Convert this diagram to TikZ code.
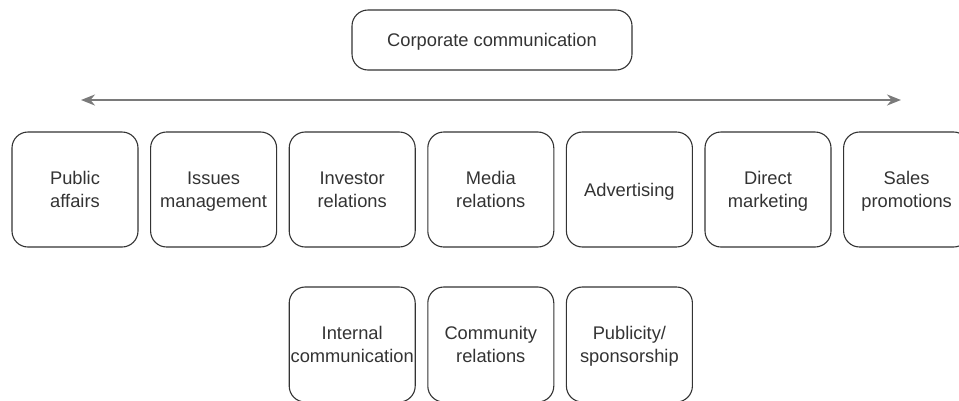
\documentclass[tikz,border=0pt]{standalone}
\usepackage{fontspec}
\setmainfont{Liberation Sans}
\usepackage{xcolor}
\usetikzlibrary{arrows.meta}
\definecolor{boxline}{HTML}{333333}
\definecolor{arrowgray}{HTML}{7A7A7A}
\tikzset{
  unit/.style={draw=boxline, line width=1.1pt, rounded corners=16pt,
    minimum width=126pt, minimum height=115pt, inner xsep=0pt,
    text depth=0pt, align=center, text=boxline,
    font=\fontsize{18.3}{22.5}\selectfont},
  head/.style={unit, minimum width=280pt, minimum height=60pt}
}
\begin{document}
\begin{tikzpicture}[x=1pt,y=-1pt]
\useasboundingbox (0,0) rectangle (959,400);
%top
\node[head] (corp) at (492,40) {Corporate communication};
%double arrow
\coordinate (arrL) at (81,100);
\coordinate (arrR) at (901,100);
\draw[arrowgray, line width=2pt, {Stealth[length=14pt,width=11pt]}-{Stealth[length=14pt,width=11pt]}] (arrL)--(arrR);
%first row
\node[unit] (pa) at (75,189.5) {Public\\affairs};
\node[unit] (im) at (213.6,189.5) {Issues\\management};
\node[unit] (ir) at (352.2,189.5) {Investor\\relations};
\node[unit] (mr) at (490.8,189.5) {Media\\relations};
\node[unit] (adv) at (629.4,189.5) {Advertising};
\node[unit] (dm) at (768,189.5) {Direct\\marketing};
\node[unit] (sp) at (906.6,189.5) {Sales\\promotions};
%second row
\node[unit] (ic) at (352.2,344.5) {Internal\\communication};
\node[unit] (cr) at (490.8,344.5) {Community\\relations};
\node[unit] (ps) at (629.4,344.5) {Publicity/\\sponsorship};
\end{tikzpicture}
\end{document}
